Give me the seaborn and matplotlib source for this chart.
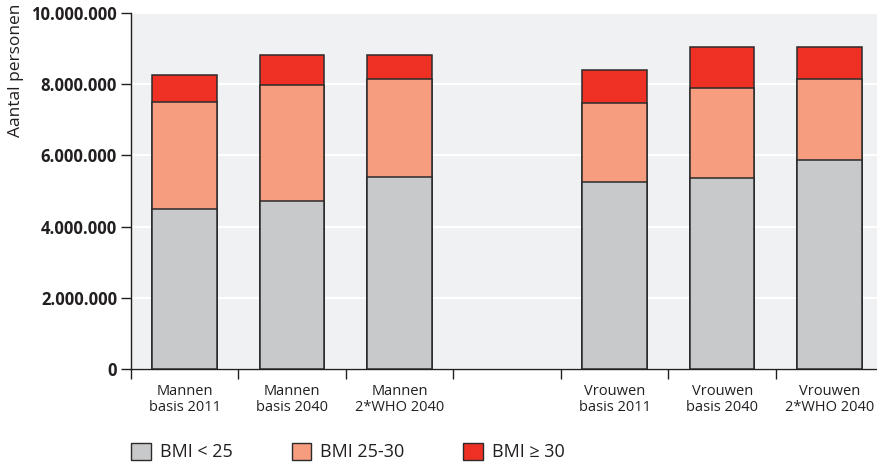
import seaborn as sns
import matplotlib.pyplot as plt
from matplotlib.patches import Patch
from matplotlib.ticker import FuncFormatter, FixedLocator
import pandas as pd

# categories (one empty slot between men and women)
categories = ["Mannen\nbasis 2011", "Mannen\nbasis 2040", "Mannen\n2*WHO 2040", " ",
              "Vrouwen\nbasis 2011", "Vrouwen\nbasis 2040", "Vrouwen\n2*WHO 2040"]
groups = [c for c in categories if c.strip()]

bmi_low = [4490000, 4720000, 5390000, 5250000, 5370000, 5870000]    # BMI < 25
bmi_mid = [3010000, 3260000, 2760000, 2210000, 2530000, 2280000]    # BMI 25-30
bmi_high = [760000, 840000, 670000, 950000, 1140000, 890000]        # BMI >= 30

series_names = ["BMI < 25", "BMI 25-30", "BMI \u2265 30"]
colors = ["#c8c9cb", "#f59d7e", "#ee3124"]

df = pd.DataFrame({"groep": groups, "low": bmi_low, "mid": bmi_mid, "high": bmi_high})
df["c1"] = df["low"]
df["c2"] = df["low"] + df["mid"]
df["c3"] = df["c2"] + df["high"]

sns.set_style("white")
plt.rcParams["font.family"] = ["Open Sans", "DejaVu Sans"]

fig = plt.figure(figsize=(8.78, 4.65), dpi=100)
ax = fig.add_axes([0.1492, 0.2065, 0.8508, 0.7655])
ax.set_facecolor("#f0f1f3")

# stacked by drawing cumulative totals from the top down
for col, color in zip(["c3", "c2", "c1"], colors[::-1]):
    sns.barplot(data=df, x="groep", y=col, order=categories, color=color,
                width=0.6, edgecolor="#2b2b2b", linewidth=1.1, saturation=1,
                ax=ax, zorder=3)

ax.set_ylim(0, 10000000)
ax.set_xlim(-0.5, (878 - 131) / 107.5 - 0.5)
ax.set_yticks(range(0, 10000001, 2000000))
ax.yaxis.set_major_formatter(FuncFormatter(lambda v, p: f"{int(v):,}".replace(",", ".")))
ax.yaxis.grid(True, color="white", linewidth=1.5, zorder=0)
ax.set_axisbelow(True)

# ticks between categories, labels at centres
n = len(categories)
ax.xaxis.set_major_locator(FixedLocator([i - 0.5 for i in range(n)]))
ax.xaxis.set_minor_locator(FixedLocator(list(range(n))))
ax.set_xticklabels([""] * n)
ax.set_xticklabels(categories, minor=True, fontsize=10.5, color="#231f20", linespacing=1.1)
ax.tick_params(axis="x", which="major", bottom=True, direction="out", length=7, width=1,
               color="#231f20")
ax.tick_params(axis="x", which="minor", bottom=True, length=0, pad=11)
ax.tick_params(axis="y", left=True, direction="out", length=7, width=1, color="#231f20", pad=3)
for lab in ax.get_yticklabels():
    lab.set_fontweight("bold")
    lab.set_fontsize(12)
    lab.set_color("#231f20")

ax.set_xlabel("")
ax.set_ylabel("Aantal personen", fontsize=12.5, color="#231f20", ha="right")
ax.yaxis.set_label_coords(-0.143, 1.025)

for s in ["top", "right"]:
    ax.spines[s].set_visible(False)
for s in ["left", "bottom"]:
    ax.spines[s].set_color("#231f20")
    ax.spines[s].set_linewidth(1)

handles = [Patch(facecolor=c, edgecolor="#2b2b2b", linewidth=1, label=l)
           for c, l in zip(colors, series_names)]
fig.legend(handles=handles, loc="center left", bbox_to_anchor=(0.131, 0.028), ncol=3,
           frameon=False, fontsize=13, handlelength=1.1, handleheight=1.1,
           handletextpad=0.5, columnspacing=3.25, labelcolor="#231f20")

fig.savefig("out.png", dpi=100)
